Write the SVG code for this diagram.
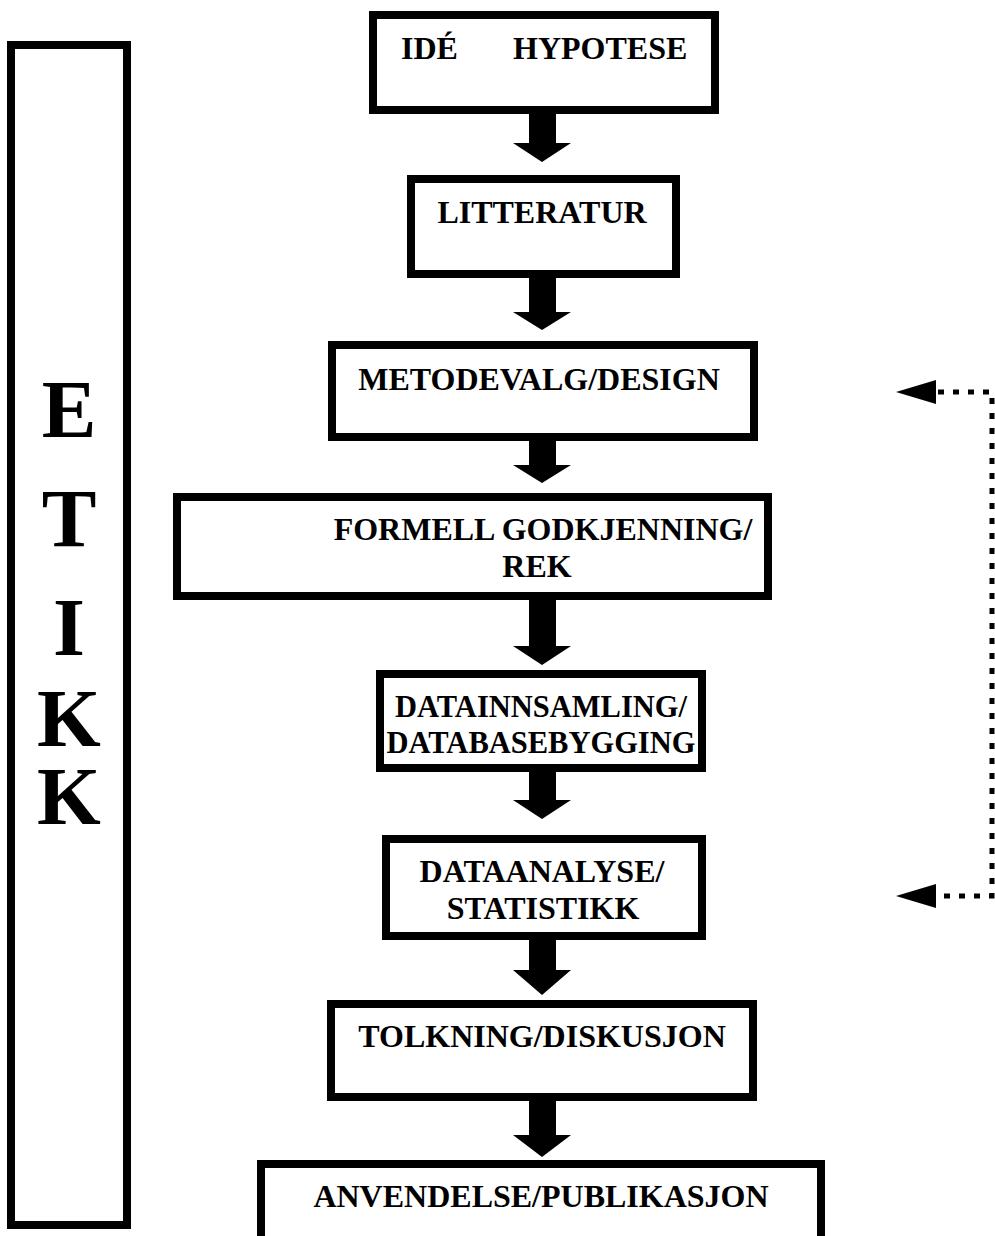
<svg xmlns="http://www.w3.org/2000/svg" width="995" height="1236" viewBox="0 0 995 1236">
<style>
.box{fill:#fff;stroke:#000;stroke-width:8}
.t{font-family:"Liberation Serif","Times New Roman",serif;font-weight:bold;font-size:32px;fill:#000;text-anchor:middle}
.big{font-family:"Liberation Serif","Times New Roman",serif;font-weight:bold;font-size:82px;fill:#000;text-anchor:middle}
.arr{fill:#000}
.dot{fill:none;stroke:#000;stroke-width:5;stroke-dasharray:6 9}
</style>
<rect width="995" height="1236" fill="#fff"/>
<g id="etikk">
<rect class="box" x="11" y="45" width="116" height="1180" stroke-width="6"/>
<text class="big" x="69" y="437">E</text>
<text class="big" x="69" y="546">T</text>
<text class="big" x="69" y="655">I</text>
<text class="big" x="69" y="746">K</text>
<text class="big" x="69" y="824">K</text>
</g>
<g id="n1"><rect class="box" x="373" y="15" width="342" height="95"/>
<text class="t" style="text-anchor:start" y="59"><tspan x="401">IDÉ</tspan><tspan x="513">HYPOTESE</tspan></text></g>
<g id="n2"><rect class="box" x="411" y="179" width="265" height="95"/><text class="t" x="542" y="223">LITTERATUR</text></g>
<g id="n3"><rect class="box" x="332" y="345" width="422" height="92"/><text class="t" x="539" y="390">METODEVALG/DESIGN</text></g>
<g id="n4"><rect class="box" x="177" y="497" width="591" height="99"/><text class="t" x="543" y="540">FORMELL GODKJENNING/</text><text class="t" x="537" y="577">REK</text></g>
<g id="n5"><rect class="box" x="380" y="674" width="322" height="94"/><text class="t" style="font-size:30.5px" x="541" y="717">DATAINNSAMLING/</text><text class="t" style="font-size:30.5px" x="541" y="753">DATABASEBYGGING</text></g>
<g id="n6"><rect class="box" x="386" y="839" width="316" height="97"/><text class="t" x="542" y="882">DATAANALYSE/</text><text class="t" x="543" y="919">STATISTIKK</text></g>
<g id="n7"><rect class="box" x="331" y="1004" width="422" height="93"/><text class="t" x="542" y="1047">TOLKNING/DISKUSJON</text></g>
<g id="n8"><rect class="box" x="261" y="1164" width="560" height="90"/><text class="t" x="541" y="1207">ANVENDELSE/PUBLIKASJON</text></g>
<g id="connectors">
<polygon class="arr" points="529,114 556,114 556,143 571,143 542,162 513,143 529,143"/>
<polygon class="arr" points="529,278 556,278 556,312 571,312 542,330 513,312 529,312"/>
<polygon class="arr" points="529,441 556,441 556,465 571,465 542,483 513,465 529,465"/>
<polygon class="arr" points="529,600 556,600 556,646 571,646 542,665 513,646 529,646"/>
<polygon class="arr" points="529,772 556,772 556,800 571,800 542,819 513,800 529,800"/>
<polygon class="arr" points="529,940 556,940 556,970 571,970 542,995 513,970 529,970"/>
<polygon class="arr" points="529,1101 556,1101 556,1135 571,1135 542,1157 513,1135 529,1135"/>
<path class="dot" d="M938 392 H992 V896 H938"/>
<polygon class="arr" points="896,392 936,380 936,404"/>
<polygon class="arr" points="896,896 936,884 936,908"/>
</g>
</svg>
